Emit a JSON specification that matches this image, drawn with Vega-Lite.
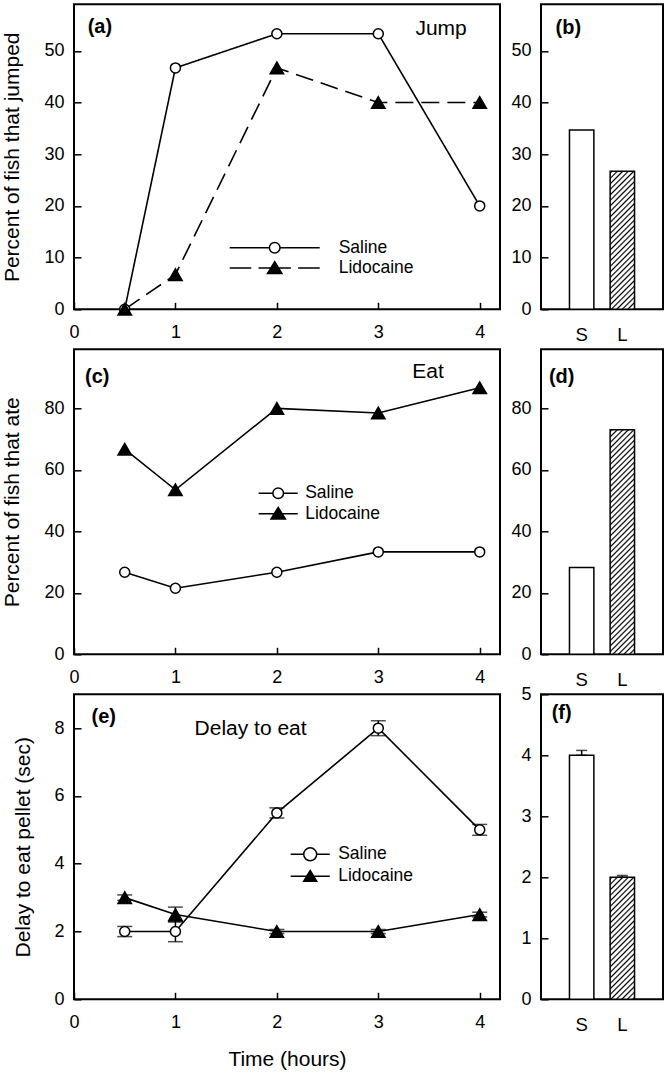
{
"$schema": "https://vega.github.io/schema/vega-lite/v6.json",
"padding": {"left": 0, "top": 3.3, "right": 0, "bottom": 0},
"autosize": {"type": "pad"},
"bounds": "flush",
"columns": 2,
"spacing": {"row": 40, "column": 41},
"config": {
  "font": "Liberation Sans",
  "view": {"stroke": "black", "strokeWidth": 2},
  "axis": {"domain": false, "grid": false, "tickColor": "black", "tickWidth": 1.5, "tickSize": -7, "labelColor": "black", "labelFontSize": 18, "labelFont": "Liberation Sans", "titleFont": "Liberation Sans", "titleFontSize": 21, "titleFontWeight": "normal", "titleColor": "black", "labelFlush": false, "labelOverlap": false},
  "legend": {"labelFont": "Liberation Sans", "labelFontSize": 17.5, "labelColor": "black"},
  "text": {"font": "Liberation Sans", "color": "black"}
},
"concat": [
{
 "width": 426, "height": 305,
 "data": {"values": [
  {"t":0.5,"series":"Saline","v":0},{"t":1,"series":"Saline","v":46.7},{"t":2,"series":"Saline","v":53.3},{"t":3,"series":"Saline","v":53.3},{"t":4,"series":"Saline","v":20},
  {"t":0.5,"series":"Lidocaine","v":0},{"t":1,"series":"Lidocaine","v":6.7},{"t":2,"series":"Lidocaine","v":46.7},{"t":3,"series":"Lidocaine","v":40},{"t":4,"series":"Lidocaine","v":40}]},
 "layer": [
  {"mark":{"type":"line","color":"black","strokeWidth":1.6},"encoding":{
    "x": {"field":"t","type":"quantitative","scale":{"domain":[0,4.2],"nice":false,"zero":false},"axis":{"values":[0,1,2,3,4],"format":"d","title":null,"labelPadding":21.2}},
    "y": {"field":"v","type":"quantitative","scale":{"domain":[0,59],"nice":false},"axis":{"values":[0,10,20,30,40,50],"format":"d","labelPadding":17,"title":"Percent of fish that jumped","titleX":-61.3,"titleY":152.5,"titleAngle":270,"titleBaseline":"middle","titleAlign":"center"}},
    "detail":{"field":"series"},"strokeDash":{"field":"series","type":"nominal","scale":{"domain":["Saline","Lidocaine"],"range":[[1,0],[18,8]]},"legend":null}}},
  {"mark":{"type":"point","filled":true,"stroke":"black","strokeWidth":1.5,"opacity":1},"encoding":{
    "x":{"field":"t","type":"quantitative"},"y":{"field":"v","type":"quantitative"},
    "shape":{"field":"series","type":"nominal","scale":{"domain":["Saline","Lidocaine"],"range":["circle","triangle-up"]},"legend":null},"fill":{"field":"series","type":"nominal","scale":{"domain":["Saline","Lidocaine"],"range":["white","black"]},"legend":null},"size":{"field":"series","type":"nominal","scale":{"domain":["Saline","Lidocaine"],"range":[100,180]},"legend":null}}},
  {"transform":[{"filter":"false"}],"mark":{"type":"point","filled":true,"stroke":"black","strokeWidth":1.5,"opacity":1},"encoding":{
    "x":{"field":"t","type":"quantitative"},"y":{"field":"v","type":"quantitative"},
    "shape":{"field":"series","type":"nominal","scale":{"domain":["Saline","Lidocaine"],"range":["M-5,0L-0.59,0M0.59,0L5,0M0.59,0A0.59,0.59,0,1,1,-0.59,0A0.59,0.59,0,1,1,0.59,0Z","M-5,0L-2.6,0M-1.8,0L1.8,0M2.6,0L5,0M0,-0.7L0.8,0.6L-0.8,0.6Z"]},
      "legend":{"orient":"none","legendX":190.7,"legendY":233.4,"title":null,"symbolSize":324,"labelOffset":54,"rowPadding":1.3,"symbolStrokeWidth":1.5,"symbolOpacity":1,"padding":0,"labelFontSize":17.5}},
    "fill":{"field":"series","type":"nominal","scale":{"domain":["Saline","Lidocaine"],"range":["white","black"]},
      "legend":{"orient":"none","legendX":190.7,"legendY":233.4,"title":null,"symbolSize":324,"labelOffset":54,"rowPadding":1.3,"symbolStrokeWidth":1.5,"symbolOpacity":1,"padding":0,"labelFontSize":17.5}},
    "stroke":{"field":"series","type":"nominal","scale":{"domain":["Saline","Lidocaine"],"range":["black","black"]},
      "legend":{"orient":"none","legendX":190.7,"legendY":233.4,"title":null,"symbolSize":324,"labelOffset":54,"rowPadding":1.3,"symbolStrokeWidth":1.5,"symbolOpacity":1,"padding":0,"labelFontSize":17.5}}}},
  {"data":{"values":[{"label":"(a)"}]},"mark":{"type":"text","align":"left","baseline":"middle","fontSize":20,"fontWeight":"bold","color":"black"},"encoding":{"text":{"field":"label","type":"nominal"},"x":{"datum":0.135,"type":"quantitative"},"y":{"datum":54.7,"type":"quantitative"}}},
  {"data":{"values":[{"label":"Jump"}]},"mark":{"type":"text","align":"left","baseline":"middle","fontSize":21,"color":"black"},"encoding":{"text":{"field":"label","type":"nominal"},"x":{"datum":3.366,"type":"quantitative"},"y":{"datum":54.2,"type":"quantitative"}}}
 ],
 "resolve": {"scale": {"shape":"independent","fill":"independent","stroke":"independent"}}
},
{
 "width": 122, "height": 305,
 "data": {"values": [{"g":"S","v":34.7},{"g":"L","v":26.7}]},
 "layer": [
   {"transform":[{"filter":"datum.g === 'S'"}],"mark":{"type":"bar","fill":"white","stroke":"black","strokeWidth":1.5},"encoding":{
     "x": {"field":"g","type":"nominal","scale":{"domain":["S","L"],"paddingInner":0.4,"paddingOuter":0.7},"axis":{"title":null,"ticks":false,"labelAngle":0,"labelPadding":16.7,"labelFontSize":18.5}},
     "y": {"field":"v","type":"quantitative","scale":{"domain":[0,59],"nice":false},"axis":{"values":[0,10,20,30,40,50],"format":"d","title":null,"labelPadding":17}}}},
   {"transform":[{"filter":"datum.g === 'L'"}],"mark":{"type":"bar","stroke":"black","strokeWidth":1.5,"fill":{"gradient":"linear","x1":0,"y1":0,"x2":0.3417,"y2":1.9323,"stops":[
{"offset":0,"color":"#fff"},{"offset":0.006,"color":"#000"},{"offset":0.012,"color":"#fff"},
{"offset":0.02,"color":"#fff"},{"offset":0.026,"color":"#000"},{"offset":0.032,"color":"#fff"},
{"offset":0.04,"color":"#fff"},{"offset":0.046,"color":"#000"},{"offset":0.052,"color":"#fff"},
{"offset":0.06,"color":"#fff"},{"offset":0.066,"color":"#000"},{"offset":0.072,"color":"#fff"},
{"offset":0.08,"color":"#fff"},{"offset":0.086,"color":"#000"},{"offset":0.092,"color":"#fff"},
{"offset":0.1,"color":"#fff"},{"offset":0.106,"color":"#000"},{"offset":0.112,"color":"#fff"},
{"offset":0.12,"color":"#fff"},{"offset":0.126,"color":"#000"},{"offset":0.132,"color":"#fff"},
{"offset":0.14,"color":"#fff"},{"offset":0.146,"color":"#000"},{"offset":0.152,"color":"#fff"},
{"offset":0.16,"color":"#fff"},{"offset":0.166,"color":"#000"},{"offset":0.172,"color":"#fff"},
{"offset":0.18,"color":"#fff"},{"offset":0.186,"color":"#000"},{"offset":0.192,"color":"#fff"},
{"offset":0.2,"color":"#fff"},{"offset":0.206,"color":"#000"},{"offset":0.212,"color":"#fff"},
{"offset":0.22,"color":"#fff"},{"offset":0.226,"color":"#000"},{"offset":0.232,"color":"#fff"},
{"offset":0.24,"color":"#fff"},{"offset":0.246,"color":"#000"},{"offset":0.252,"color":"#fff"},
{"offset":0.26,"color":"#fff"},{"offset":0.266,"color":"#000"},{"offset":0.272,"color":"#fff"},
{"offset":0.28,"color":"#fff"},{"offset":0.286,"color":"#000"},{"offset":0.292,"color":"#fff"},
{"offset":0.3,"color":"#fff"},{"offset":0.306,"color":"#000"},{"offset":0.312,"color":"#fff"},
{"offset":0.32,"color":"#fff"},{"offset":0.326,"color":"#000"},{"offset":0.332,"color":"#fff"},
{"offset":0.34,"color":"#fff"},{"offset":0.346,"color":"#000"},{"offset":0.352,"color":"#fff"},
{"offset":0.36,"color":"#fff"},{"offset":0.366,"color":"#000"},{"offset":0.372,"color":"#fff"},
{"offset":0.38,"color":"#fff"},{"offset":0.386,"color":"#000"},{"offset":0.392,"color":"#fff"},
{"offset":0.4,"color":"#fff"},{"offset":0.406,"color":"#000"},{"offset":0.412,"color":"#fff"},
{"offset":0.42,"color":"#fff"},{"offset":0.426,"color":"#000"},{"offset":0.432,"color":"#fff"},
{"offset":0.44,"color":"#fff"},{"offset":0.446,"color":"#000"},{"offset":0.452,"color":"#fff"},
{"offset":0.46,"color":"#fff"},{"offset":0.466,"color":"#000"},{"offset":0.472,"color":"#fff"},
{"offset":0.48,"color":"#fff"},{"offset":0.486,"color":"#000"},{"offset":0.492,"color":"#fff"},
{"offset":0.5,"color":"#fff"},{"offset":0.506,"color":"#000"},{"offset":0.512,"color":"#fff"},
{"offset":0.52,"color":"#fff"},{"offset":0.526,"color":"#000"},{"offset":0.532,"color":"#fff"},
{"offset":0.54,"color":"#fff"},{"offset":0.546,"color":"#000"},{"offset":0.552,"color":"#fff"},
{"offset":0.56,"color":"#fff"},{"offset":0.566,"color":"#000"},{"offset":0.572,"color":"#fff"},
{"offset":0.58,"color":"#fff"},{"offset":0.586,"color":"#000"},{"offset":0.592,"color":"#fff"},
{"offset":0.6,"color":"#fff"},{"offset":0.606,"color":"#000"},{"offset":0.612,"color":"#fff"}
]}},"encoding":{"x":{"field":"g","type":"nominal"},"y":{"field":"v","type":"quantitative"}}},
   {"data":{"values":[{"label":"(b)"}]},"mark":{"type":"text","align":"center","baseline":"middle","fontSize":20,"fontWeight":"bold","dx":-13.3,"color":"black"},"encoding":{"text":{"field":"label","type":"nominal"},"x":{"datum":"S","type":"nominal"},"y":{"datum":54.5,"type":"quantitative"}}}
 ]
},
{
 "width": 426, "height": 305,
 "data": {"values": [
  {"t":0.5,"series":"Saline","v":26.7},{"t":1,"series":"Saline","v":21.5},{"t":2,"series":"Saline","v":26.7},{"t":3,"series":"Saline","v":33.3},{"t":4,"series":"Saline","v":33.3},
  {"t":0.5,"series":"Lidocaine","v":66.7},{"t":1,"series":"Lidocaine","v":53.5},{"t":2,"series":"Lidocaine","v":80},{"t":3,"series":"Lidocaine","v":78.5},{"t":4,"series":"Lidocaine","v":86.7}]},
 "layer": [
  {"mark":{"type":"line","color":"black","strokeWidth":1.6},"encoding":{
    "x": {"field":"t","type":"quantitative","scale":{"domain":[0,4.2],"nice":false,"zero":false},"axis":{"values":[0,1,2,3,4],"format":"d","title":null,"labelPadding":21.2}},
    "y": {"field":"v","type":"quantitative","scale":{"domain":[0,99.2],"nice":false},"axis":{"values":[0,20,40,60,80],"format":"d","labelPadding":17,"title":"Percent of fish that ate","titleX":-61.8,"titleY":152.5,"titleAngle":270,"titleBaseline":"middle","titleAlign":"center"}},
    "detail":{"field":"series"}}},
  {"mark":{"type":"point","filled":true,"stroke":"black","strokeWidth":1.5,"opacity":1},"encoding":{
    "x":{"field":"t","type":"quantitative"},"y":{"field":"v","type":"quantitative"},
    "shape":{"field":"series","type":"nominal","scale":{"domain":["Saline","Lidocaine"],"range":["circle","triangle-up"]},"legend":null},"fill":{"field":"series","type":"nominal","scale":{"domain":["Saline","Lidocaine"],"range":["white","black"]},"legend":null},"size":{"field":"series","type":"nominal","scale":{"domain":["Saline","Lidocaine"],"range":[100,180]},"legend":null}}},
  {"transform":[{"filter":"false"}],"mark":{"type":"point","filled":true,"stroke":"black","strokeWidth":1.5,"opacity":1},"encoding":{
    "x":{"field":"t","type":"quantitative"},"y":{"field":"v","type":"quantitative"},
    "shape":{"field":"series","type":"nominal","scale":{"domain":["Saline","Lidocaine"],"range":["M-2.17,0L-0.59,0M0.59,0L2.17,0M0.59,0A0.59,0.59,0,1,1,-0.59,0A0.59,0.59,0,1,1,0.59,0Z","M-2.17,0L2.17,0M0,-0.7L0.8,0.6L-0.8,0.6Z"]},
      "legend":{"orient":"none","legendX":194.2,"legendY":134,"title":null,"symbolSize":324,"labelOffset":17,"rowPadding":1.4,"symbolStrokeWidth":1.5,"symbolOpacity":1,"padding":0,"labelFontSize":17.5}},
    "fill":{"field":"series","type":"nominal","scale":{"domain":["Saline","Lidocaine"],"range":["white","black"]},
      "legend":{"orient":"none","legendX":194.2,"legendY":134,"title":null,"symbolSize":324,"labelOffset":17,"rowPadding":1.4,"symbolStrokeWidth":1.5,"symbolOpacity":1,"padding":0,"labelFontSize":17.5}},
    "stroke":{"field":"series","type":"nominal","scale":{"domain":["Saline","Lidocaine"],"range":["black","black"]},
      "legend":{"orient":"none","legendX":194.2,"legendY":134,"title":null,"symbolSize":324,"labelOffset":17,"rowPadding":1.4,"symbolStrokeWidth":1.5,"symbolOpacity":1,"padding":0,"labelFontSize":17.5}}}},
  {"data":{"values":[{"label":"(c)"}]},"mark":{"type":"text","align":"left","baseline":"middle","fontSize":20,"fontWeight":"bold","color":"black"},"encoding":{"text":{"field":"label","type":"nominal"},"x":{"datum":0.109,"type":"quantitative"},"y":{"datum":90.3,"type":"quantitative"}}},
  {"data":{"values":[{"label":"Eat"}]},"mark":{"type":"text","align":"left","baseline":"middle","fontSize":21,"color":"black"},"encoding":{"text":{"field":"label","type":"nominal"},"x":{"datum":3.336,"type":"quantitative"},"y":{"datum":91.9,"type":"quantitative"}}}
 ],
 "resolve": {"scale": {"shape":"independent","fill":"independent","stroke":"independent"}}
},
{
 "width": 122, "height": 305,
 "data": {"values": [{"g":"S","v":28.2},{"g":"L","v":73}]},
 "layer": [
   {"transform":[{"filter":"datum.g === 'S'"}],"mark":{"type":"bar","fill":"white","stroke":"black","strokeWidth":1.5},"encoding":{
     "x": {"field":"g","type":"nominal","scale":{"domain":["S","L"],"paddingInner":0.4,"paddingOuter":0.7},"axis":{"title":null,"ticks":false,"labelAngle":0,"labelPadding":16.7,"labelFontSize":18.5}},
     "y": {"field":"v","type":"quantitative","scale":{"domain":[0,99.2],"nice":false},"axis":{"values":[0,20,40,60,80],"format":"d","title":null,"labelPadding":17}}}},
   {"transform":[{"filter":"datum.g === 'L'"}],"mark":{"type":"bar","stroke":"black","strokeWidth":1.5,"fill":{"gradient":"linear","x1":0,"y1":0,"x2":0.1317,"y2":1.2112,"stops":[
{"offset":0,"color":"#fff"},{"offset":0.006,"color":"#000"},{"offset":0.012,"color":"#fff"},
{"offset":0.02,"color":"#fff"},{"offset":0.026,"color":"#000"},{"offset":0.032,"color":"#fff"},
{"offset":0.04,"color":"#fff"},{"offset":0.046,"color":"#000"},{"offset":0.052,"color":"#fff"},
{"offset":0.06,"color":"#fff"},{"offset":0.066,"color":"#000"},{"offset":0.072,"color":"#fff"},
{"offset":0.08,"color":"#fff"},{"offset":0.086,"color":"#000"},{"offset":0.092,"color":"#fff"},
{"offset":0.1,"color":"#fff"},{"offset":0.106,"color":"#000"},{"offset":0.112,"color":"#fff"},
{"offset":0.12,"color":"#fff"},{"offset":0.126,"color":"#000"},{"offset":0.132,"color":"#fff"},
{"offset":0.14,"color":"#fff"},{"offset":0.146,"color":"#000"},{"offset":0.152,"color":"#fff"},
{"offset":0.16,"color":"#fff"},{"offset":0.166,"color":"#000"},{"offset":0.172,"color":"#fff"},
{"offset":0.18,"color":"#fff"},{"offset":0.186,"color":"#000"},{"offset":0.192,"color":"#fff"},
{"offset":0.2,"color":"#fff"},{"offset":0.206,"color":"#000"},{"offset":0.212,"color":"#fff"},
{"offset":0.22,"color":"#fff"},{"offset":0.226,"color":"#000"},{"offset":0.232,"color":"#fff"},
{"offset":0.24,"color":"#fff"},{"offset":0.246,"color":"#000"},{"offset":0.252,"color":"#fff"},
{"offset":0.26,"color":"#fff"},{"offset":0.266,"color":"#000"},{"offset":0.272,"color":"#fff"},
{"offset":0.28,"color":"#fff"},{"offset":0.286,"color":"#000"},{"offset":0.292,"color":"#fff"},
{"offset":0.3,"color":"#fff"},{"offset":0.306,"color":"#000"},{"offset":0.312,"color":"#fff"},
{"offset":0.32,"color":"#fff"},{"offset":0.326,"color":"#000"},{"offset":0.332,"color":"#fff"},
{"offset":0.34,"color":"#fff"},{"offset":0.346,"color":"#000"},{"offset":0.352,"color":"#fff"},
{"offset":0.36,"color":"#fff"},{"offset":0.366,"color":"#000"},{"offset":0.372,"color":"#fff"},
{"offset":0.38,"color":"#fff"},{"offset":0.386,"color":"#000"},{"offset":0.392,"color":"#fff"},
{"offset":0.4,"color":"#fff"},{"offset":0.406,"color":"#000"},{"offset":0.412,"color":"#fff"},
{"offset":0.42,"color":"#fff"},{"offset":0.426,"color":"#000"},{"offset":0.432,"color":"#fff"},
{"offset":0.44,"color":"#fff"},{"offset":0.446,"color":"#000"},{"offset":0.452,"color":"#fff"},
{"offset":0.46,"color":"#fff"},{"offset":0.466,"color":"#000"},{"offset":0.472,"color":"#fff"},
{"offset":0.48,"color":"#fff"},{"offset":0.486,"color":"#000"},{"offset":0.492,"color":"#fff"},
{"offset":0.5,"color":"#fff"},{"offset":0.506,"color":"#000"},{"offset":0.512,"color":"#fff"},
{"offset":0.52,"color":"#fff"},{"offset":0.526,"color":"#000"},{"offset":0.532,"color":"#fff"},
{"offset":0.54,"color":"#fff"},{"offset":0.546,"color":"#000"},{"offset":0.552,"color":"#fff"},
{"offset":0.56,"color":"#fff"},{"offset":0.566,"color":"#000"},{"offset":0.572,"color":"#fff"},
{"offset":0.58,"color":"#fff"},{"offset":0.586,"color":"#000"},{"offset":0.592,"color":"#fff"},
{"offset":0.6,"color":"#fff"},{"offset":0.606,"color":"#000"},{"offset":0.612,"color":"#fff"},
{"offset":0.62,"color":"#fff"},{"offset":0.626,"color":"#000"},{"offset":0.632,"color":"#fff"},
{"offset":0.64,"color":"#fff"},{"offset":0.646,"color":"#000"},{"offset":0.652,"color":"#fff"},
{"offset":0.66,"color":"#fff"},{"offset":0.666,"color":"#000"},{"offset":0.672,"color":"#fff"},
{"offset":0.68,"color":"#fff"},{"offset":0.686,"color":"#000"},{"offset":0.692,"color":"#fff"},
{"offset":0.7,"color":"#fff"},{"offset":0.706,"color":"#000"},{"offset":0.712,"color":"#fff"},
{"offset":0.72,"color":"#fff"},{"offset":0.726,"color":"#000"},{"offset":0.732,"color":"#fff"},
{"offset":0.74,"color":"#fff"},{"offset":0.746,"color":"#000"},{"offset":0.752,"color":"#fff"},
{"offset":0.76,"color":"#fff"},{"offset":0.766,"color":"#000"},{"offset":0.772,"color":"#fff"},
{"offset":0.78,"color":"#fff"},{"offset":0.786,"color":"#000"},{"offset":0.792,"color":"#fff"},
{"offset":0.8,"color":"#fff"},{"offset":0.806,"color":"#000"},{"offset":0.812,"color":"#fff"},
{"offset":0.82,"color":"#fff"},{"offset":0.826,"color":"#000"},{"offset":0.832,"color":"#fff"},
{"offset":0.84,"color":"#fff"},{"offset":0.846,"color":"#000"},{"offset":0.852,"color":"#fff"},
{"offset":0.86,"color":"#fff"},{"offset":0.866,"color":"#000"},{"offset":0.872,"color":"#fff"},
{"offset":0.88,"color":"#fff"},{"offset":0.886,"color":"#000"},{"offset":0.892,"color":"#fff"},
{"offset":0.9,"color":"#fff"},{"offset":0.906,"color":"#000"},{"offset":0.912,"color":"#fff"}
]}},"encoding":{"x":{"field":"g","type":"nominal"},"y":{"field":"v","type":"quantitative"}}},
   {"data":{"values":[{"label":"(d)"}]},"mark":{"type":"text","align":"center","baseline":"middle","fontSize":20,"fontWeight":"bold","dx":-20,"color":"black"},"encoding":{"text":{"field":"label","type":"nominal"},"x":{"datum":"S","type":"nominal"},"y":{"datum":90.3,"type":"quantitative"}}}
 ]
},
{
 "width": 426, "height": 305,
 "data": {"values": [
  {"t":0.5,"series":"Saline","v":2,"e":0.15},{"t":1,"series":"Saline","v":2,"e":0.3},{"t":2,"series":"Saline","v":5.5,"e":0.15},{"t":3,"series":"Saline","v":8,"e":0.22},{"t":4,"series":"Saline","v":5,"e":0.16},
  {"t":0.5,"series":"Lidocaine","v":3,"e":0.08},{"t":1,"series":"Lidocaine","v":2.5,"e":0.22},{"t":2,"series":"Lidocaine","v":2,"e":0.06},{"t":3,"series":"Lidocaine","v":2,"e":0.06},{"t":4,"series":"Lidocaine","v":2.5,"e":0.07}]},
 "layer": [
  {"mark":{"type":"errorbar","ticks":{"size":15},"thickness":1.5,"color":"black"},"encoding":{
    "x": {"field":"t","type":"quantitative","scale":{"domain":[0,4.2],"nice":false,"zero":false},"axis":{"values":[0,1,2,3,4],"format":"d","title":"Time (hours)","labelPadding":21.2,"titleX":213,"titleY":60.3,"titleBaseline":"middle","titleAlign":"center","titleAngle":0}},
    "y": {"field":"v","type":"quantitative","scale":{"domain":[0,9],"nice":false},"axis":{"values":[0,2,4,6,8],"format":"d","labelPadding":17,"title":"Delay to eat pellet (sec)","titleX":-50.3,"titleY":152.5,"titleAngle":270,"titleBaseline":"middle","titleAlign":"center"}},
    "yError":{"field":"e"},"detail":{"field":"series"}}},
  {"mark":{"type":"line","color":"black","strokeWidth":1.6},"encoding":{"x":{"field":"t","type":"quantitative"},"y":{"field":"v","type":"quantitative"},"detail":{"field":"series"}}},
  {"mark":{"type":"point","filled":true,"stroke":"black","strokeWidth":1.5,"opacity":1},"encoding":{
    "x":{"field":"t","type":"quantitative"},"y":{"field":"v","type":"quantitative"},
    "shape":{"field":"series","type":"nominal","scale":{"domain":["Saline","Lidocaine"],"range":["circle","triangle-up"]},"legend":null},"fill":{"field":"series","type":"nominal","scale":{"domain":["Saline","Lidocaine"],"range":["white","black"]},"legend":null},"size":{"field":"series","type":"nominal","scale":{"domain":["Saline","Lidocaine"],"range":[150,150]},"legend":null}}},
  {"transform":[{"filter":"false"}],"mark":{"type":"point","filled":true,"stroke":"black","strokeWidth":1.5,"opacity":1},"encoding":{
    "x":{"field":"t","type":"quantitative"},"y":{"field":"v","type":"quantitative"},
    "shape":{"field":"series","type":"nominal","scale":{"domain":["Saline","Lidocaine"],"range":["M-2.17,0L-0.72,0M0.72,0L2.17,0M0.72,0A0.72,0.72,0,1,1,-0.72,0A0.72,0.72,0,1,1,0.72,0Z","M-2.17,0L2.17,0M0,-0.65L0.72,0.55L-0.72,0.55Z"]},
      "legend":{"orient":"none","legendX":226.2,"legendY":150,"title":null,"symbolSize":324,"labelOffset":18,"rowPadding":2,"symbolStrokeWidth":1.5,"symbolOpacity":1,"padding":0,"labelFontSize":17.5}},
    "fill":{"field":"series","type":"nominal","scale":{"domain":["Saline","Lidocaine"],"range":["white","black"]},
      "legend":{"orient":"none","legendX":226.2,"legendY":150,"title":null,"symbolSize":324,"labelOffset":18,"rowPadding":2,"symbolStrokeWidth":1.5,"symbolOpacity":1,"padding":0,"labelFontSize":17.5}},
    "stroke":{"field":"series","type":"nominal","scale":{"domain":["Saline","Lidocaine"],"range":["black","black"]},
      "legend":{"orient":"none","legendX":226.2,"legendY":150,"title":null,"symbolSize":324,"labelOffset":18,"rowPadding":2,"symbolStrokeWidth":1.5,"symbolOpacity":1,"padding":0,"labelFontSize":17.5}}}},
  {"data":{"values":[{"label":"(e)"}]},"mark":{"type":"text","align":"left","baseline":"middle","fontSize":20,"fontWeight":"bold","color":"black"},"encoding":{"text":{"field":"label","type":"nominal"},"x":{"datum":0.173,"type":"quantitative"},"y":{"datum":8.34,"type":"quantitative"}}},
  {"data":{"values":[{"label":"Delay to eat"}]},"mark":{"type":"text","align":"left","baseline":"middle","fontSize":21,"color":"black"},"encoding":{"text":{"field":"label","type":"nominal"},"x":{"datum":1.189,"type":"quantitative"},"y":{"datum":7.97,"type":"quantitative"}}}
 ],
 "resolve": {"scale": {"shape":"independent","fill":"independent","stroke":"independent"}}
},
{
 "width": 122, "height": 305,
 "data": {"values": [{"g":"S","v":4,"hi":4.08},{"g":"L","v":2,"hi":2.03}]},
 "layer": [
   {"transform":[{"filter":"datum.g === 'S'"}],"mark":{"type":"bar","fill":"white","stroke":"black","strokeWidth":1.5},"encoding":{
     "x": {"field":"g","type":"nominal","scale":{"domain":["S","L"],"paddingInner":0.4,"paddingOuter":0.7},"axis":{"title":null,"ticks":false,"labelAngle":0,"labelPadding":16.7,"labelFontSize":18.5}},
     "y": {"field":"v","type":"quantitative","scale":{"domain":[0,5],"nice":false},"axis":{"values":[0,1,2,3,4,5],"format":"d","title":null,"labelPadding":17}}}},
   {"transform":[{"filter":"datum.g === 'L'"}],"mark":{"type":"bar","stroke":"black","strokeWidth":1.5,"fill":{"gradient":"linear","x1":0,"y1":0,"x2":0.4335,"y2":2.1674,"stops":[
{"offset":0,"color":"#fff"},{"offset":0.006,"color":"#000"},{"offset":0.012,"color":"#fff"},
{"offset":0.02,"color":"#fff"},{"offset":0.026,"color":"#000"},{"offset":0.032,"color":"#fff"},
{"offset":0.04,"color":"#fff"},{"offset":0.046,"color":"#000"},{"offset":0.052,"color":"#fff"},
{"offset":0.06,"color":"#fff"},{"offset":0.066,"color":"#000"},{"offset":0.072,"color":"#fff"},
{"offset":0.08,"color":"#fff"},{"offset":0.086,"color":"#000"},{"offset":0.092,"color":"#fff"},
{"offset":0.1,"color":"#fff"},{"offset":0.106,"color":"#000"},{"offset":0.112,"color":"#fff"},
{"offset":0.12,"color":"#fff"},{"offset":0.126,"color":"#000"},{"offset":0.132,"color":"#fff"},
{"offset":0.14,"color":"#fff"},{"offset":0.146,"color":"#000"},{"offset":0.152,"color":"#fff"},
{"offset":0.16,"color":"#fff"},{"offset":0.166,"color":"#000"},{"offset":0.172,"color":"#fff"},
{"offset":0.18,"color":"#fff"},{"offset":0.186,"color":"#000"},{"offset":0.192,"color":"#fff"},
{"offset":0.2,"color":"#fff"},{"offset":0.206,"color":"#000"},{"offset":0.212,"color":"#fff"},
{"offset":0.22,"color":"#fff"},{"offset":0.226,"color":"#000"},{"offset":0.232,"color":"#fff"},
{"offset":0.24,"color":"#fff"},{"offset":0.246,"color":"#000"},{"offset":0.252,"color":"#fff"},
{"offset":0.26,"color":"#fff"},{"offset":0.266,"color":"#000"},{"offset":0.272,"color":"#fff"},
{"offset":0.28,"color":"#fff"},{"offset":0.286,"color":"#000"},{"offset":0.292,"color":"#fff"},
{"offset":0.3,"color":"#fff"},{"offset":0.306,"color":"#000"},{"offset":0.312,"color":"#fff"},
{"offset":0.32,"color":"#fff"},{"offset":0.326,"color":"#000"},{"offset":0.332,"color":"#fff"},
{"offset":0.34,"color":"#fff"},{"offset":0.346,"color":"#000"},{"offset":0.352,"color":"#fff"},
{"offset":0.36,"color":"#fff"},{"offset":0.366,"color":"#000"},{"offset":0.372,"color":"#fff"},
{"offset":0.38,"color":"#fff"},{"offset":0.386,"color":"#000"},{"offset":0.392,"color":"#fff"},
{"offset":0.4,"color":"#fff"},{"offset":0.406,"color":"#000"},{"offset":0.412,"color":"#fff"},
{"offset":0.42,"color":"#fff"},{"offset":0.426,"color":"#000"},{"offset":0.432,"color":"#fff"},
{"offset":0.44,"color":"#fff"},{"offset":0.446,"color":"#000"},{"offset":0.452,"color":"#fff"},
{"offset":0.46,"color":"#fff"},{"offset":0.466,"color":"#000"},{"offset":0.472,"color":"#fff"},
{"offset":0.48,"color":"#fff"},{"offset":0.486,"color":"#000"},{"offset":0.492,"color":"#fff"},
{"offset":0.5,"color":"#fff"},{"offset":0.506,"color":"#000"},{"offset":0.512,"color":"#fff"},
{"offset":0.52,"color":"#fff"},{"offset":0.526,"color":"#000"},{"offset":0.532,"color":"#fff"},
{"offset":0.54,"color":"#fff"},{"offset":0.546,"color":"#000"},{"offset":0.552,"color":"#fff"},
{"offset":0.56,"color":"#fff"},{"offset":0.566,"color":"#000"},{"offset":0.572,"color":"#fff"},
{"offset":0.58,"color":"#fff"},{"offset":0.586,"color":"#000"},{"offset":0.592,"color":"#fff"},
{"offset":0.6,"color":"#fff"},{"offset":0.606,"color":"#000"},{"offset":0.612,"color":"#fff"}
]}},"encoding":{"x":{"field":"g","type":"nominal"},"y":{"field":"v","type":"quantitative"}}},
   {"mark":{"type":"errorbar","ticks":{"size":11},"thickness":1.5,"color":"black"},"encoding":{"x":{"field":"g","type":"nominal"},"y":{"field":"v","type":"quantitative"},"y2":{"field":"hi"}}},
   {"data":{"values":[{"label":"(f)"}]},"mark":{"type":"text","align":"center","baseline":"middle","fontSize":20,"fontWeight":"bold","dx":-20,"color":"black"},"encoding":{"text":{"field":"label","type":"nominal"},"x":{"datum":"S","type":"nominal"},"y":{"datum":4.7,"type":"quantitative"}}}
 ]
}
]
}
